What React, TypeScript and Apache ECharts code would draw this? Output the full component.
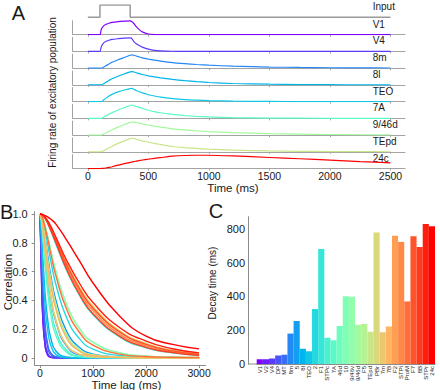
import React, { useEffect, useRef } from "react";
import * as echarts from "echarts";

// ---------- data ----------
const AREAS = ["V1","V2","V4","DP","MT","8m","5","8l","TEO","2","F1","STPc","7A","46d","10","9/46v","9/46d","F5","TEpd","PBr","7m","7B","F2","STPi","ProM","F7","8B","STPr","24c"];
const DECAY_MS = [28,28,33,50,55,180,255,90,75,325,680,155,140,225,400,398,232,237,190,778,188,222,758,722,370,755,692,828,815];
const AREA_COLORS = ["#8000ff","#6d1dfe","#5b39fd","#4954fb","#376ff9","#2488f5","#129ff1","#00b4ec","#12c7e6","#24d8df","#37e6d8","#49f1d0","#5bf9c7","#6dfdbe","#80ffb4","#92fdaa","#a4f99f","#b6f193","#c8e688","#dbd87b","#edc76f","#ffb462","#ff9f54","#ff8847","#ff6f39","#ff542b","#ff391d","#ff1d0e","#ff0000"];

// Panel A
const INPUT_T = [0, 100, 100, 350, 350, 2500];
const INPUT_V = [0, 0, 1, 1, 0, 0];
const A_ROWS = ["V1","V4","8m","8l","TEO","7A","9/46d","TEpd","24c"];
const A_ROW_COLORS = ["#8000ff","#5b39fd","#2488f5","#00b4ec","#12c7e6","#5bf9c7","#a4f99f","#c8e688","#ff0000"];
const TRACE_T = [0,100,110,125,150,175,200,250,300,350,365,380,400,425,450,500,550,600,700,800,900,1000,1200,1500,1750,2000,2250,2500];
const TR_V1 = [0,0,0.35,0.58,0.74,0.82,0.88,0.94,0.97,0.99,0.92,0.8,0.58,0.36,0.2,0.05,0.01,0,0,0,0,0,0,0,0,0,0,0];
const TR_V4 = [0,0,0.3,0.55,0.72,0.8,0.86,0.91,0.95,0.975,0.9,0.7,0.55,0.42,0.31,0.16,0.07,0.035,0.012,0.004,0,0,0,0,0,0,0,0];
const TR_8M = [0,0,0,0.05,0.17,0.3,0.42,0.6,0.76,0.92,0.95,0.92,0.87,0.8,0.74,0.65,0.57,0.5,0.39,0.32,0.26,0.21,0.14,0.08,0.05,0.03,0.02,0.012];
const TR_8L = [0,0,0,0.06,0.19,0.32,0.44,0.62,0.78,0.93,0.95,0.92,0.87,0.8,0.74,0.65,0.57,0.5,0.39,0.3,0.23,0.17,0.1,0.05,0.025,0.012,0.005,0];
const TR_TEO = [0,0,0,0.08,0.25,0.4,0.52,0.7,0.83,0.93,0.94,0.88,0.8,0.7,0.62,0.49,0.4,0.32,0.21,0.14,0.1,0.07,0.035,0.012,0.004,0,0,0];
const TR_7A = [0,0,0,0.06,0.18,0.3,0.41,0.6,0.76,0.92,0.95,0.9,0.85,0.78,0.71,0.58,0.48,0.4,0.28,0.2,0.14,0.1,0.05,0.02,0.01,0.004,0,0];
const TR_946D = [0,0,0,0.05,0.16,0.27,0.38,0.57,0.74,0.91,0.95,0.93,0.9,0.85,0.8,0.72,0.64,0.57,0.45,0.37,0.3,0.25,0.17,0.1,0.065,0.04,0.025,0.015];
const TR_TEPD = [0,0,0,0.05,0.17,0.29,0.4,0.6,0.78,0.94,0.97,0.94,0.9,0.84,0.78,0.7,0.6,0.52,0.38,0.3,0.24,0.19,0.12,0.06,0.035,0.02,0.01,0.005];
const TR_24C = [0,0,0.005,0.01,0.04,0.08,0.13,0.24,0.35,0.44,0.47,0.5,0.53,0.57,0.61,0.67,0.73,0.78,0.88,0.93,0.95,0.95,0.9,0.79,0.7,0.6,0.5,0.41];
const A_TRACES = [TR_V1, TR_V4, TR_8M, TR_8L, TR_TEO, TR_7A, TR_946D, TR_TEPD, TR_24C];
const A_TICKS = [0, 500, 1000, 1500, 2000, 2500];

// Panel B (autocorrelation, one curve per area, same order as AREAS)
const LAGS = [0,25,50,100,150,200,300,500,750,1000,1500,2000,2500,3000];
const AC_V1 = [1,0.6,0.29,0.07,0.015,0.003,0,0,0,0,0,0,0,0];
const AC_V2 = [1,0.62,0.31,0.075,0.018,0.004,0,0,0,0,0,0,0,0];
const AC_V4 = [1,0.66,0.36,0.1,0.028,0.007,0.001,0,0,0,0,0,0,0];
const AC_DP = [1,0.75,0.47,0.18,0.066,0.024,0.004,0,0,0,0,0,0,0];
const AC_MT = [1,0.78,0.52,0.21,0.087,0.035,0.007,0.001,0,0,0,0,0,0];
const AC_8M = [1,0.97,0.9,0.72,0.56,0.43,0.25,0.083,0.021,0.012,0.004,0.001,0,0];
const AC_5 = [1,0.985,0.94,0.82,0.7,0.58,0.4,0.186,0.07,0.026,0.006,0.002,0,0];
const AC_8L = [1,0.9,0.72,0.43,0.25,0.143,0.047,0.006,0,0,0,0,0,0];
const AC_TEO = [1,0.86,0.65,0.34,0.18,0.092,0.024,0.002,0,0,0,0,0,0];
const AC_2 = [1,0.99,0.96,0.88,0.78,0.68,0.51,0.28,0.13,0.061,0.016,0.005,0.002,0];
const AC_F1 = [1,0.998,0.991,0.967,0.93,0.887,0.79,0.61,0.43,0.3,0.146,0.07,0.034,0.016];
const AC_STPC = [1,0.96,0.87,0.66,0.49,0.36,0.19,0.053,0.011,0.003,0.001,0,0,0];
const AC_7A = [1,0.95,0.85,0.62,0.44,0.31,0.155,0.038,0.008,0.002,0,0,0,0];
const AC_46D = [1,0.98,0.93,0.795,0.645,0.525,0.345,0.142,0.047,0.017,0.004,0.001,0,0];
const AC_10 = [1,0.99,0.975,0.91,0.835,0.75,0.6,0.373,0.202,0.109,0.035,0.012,0.005,0.002];
const AC_946V = [1,0.99,0.974,0.908,0.832,0.748,0.598,0.371,0.2,0.107,0.034,0.012,0.005,0.002];
const AC_946D = [1,0.98,0.935,0.8,0.66,0.54,0.36,0.153,0.052,0.019,0.004,0.001,0,0];
const AC_F5 = [1,0.98,0.94,0.805,0.665,0.55,0.37,0.16,0.056,0.021,0.005,0.001,0,0];
const AC_TEPD = [1,0.97,0.905,0.735,0.575,0.445,0.265,0.092,0.025,0.008,0.002,0,0,0];
const AC_PBR = [1,0.998,0.992,0.973,0.943,0.905,0.825,0.66,0.49,0.36,0.19,0.1,0.053,0.028];
const AC_7M = [1,0.97,0.9,0.73,0.57,0.44,0.26,0.09,0.024,0.007,0.002,0,0,0];
const AC_7B = [1,0.98,0.93,0.79,0.64,0.52,0.34,0.139,0.045,0.016,0.003,0.001,0,0];
const AC_F2 = [1,0.998,0.992,0.972,0.94,0.9,0.82,0.652,0.478,0.347,0.181,0.094,0.049,0.025];
const AC_STPI = [1,0.998,0.991,0.97,0.937,0.897,0.81,0.635,0.458,0.327,0.165,0.083,0.042,0.021];
const AC_PROM = [1,0.99,0.97,0.9,0.82,0.73,0.57,0.34,0.174,0.089,0.026,0.009,0.004,0.002];
const AC_F7 = [1,0.998,0.992,0.972,0.94,0.9,0.82,0.65,0.476,0.345,0.18,0.093,0.048,0.024];
const AC_8B = [1,0.998,0.991,0.968,0.933,0.89,0.8,0.617,0.437,0.306,0.151,0.073,0.036,0.017];
const AC_STPR = [1,0.998,0.993,0.976,0.95,0.917,0.84,0.68,0.515,0.384,0.211,0.116,0.063,0.034];
const AC_24C = [1,0.999,0.997,0.988,0.978,0.965,0.93,0.82,0.67,0.52,0.29,0.15,0.093,0.062];
const ACF = [AC_V1,AC_V2,AC_V4,AC_DP,AC_MT,AC_8M,AC_5,AC_8L,AC_TEO,AC_2,AC_F1,AC_STPC,AC_7A,AC_46D,AC_10,AC_946V,AC_946D,AC_F5,AC_TEPD,AC_PBR,AC_7M,AC_7B,AC_F2,AC_STPI,AC_PROM,AC_F7,AC_8B,AC_STPR,AC_24C];
const B_X_TICKS = [0, 1000, 2000, 3000];
const B_Y_TICKS = [0, 0.2, 0.4, 0.6, 0.8, 1.0];
const C_Y_TICKS = [0, 200, 400, 600, 800];

// ---------- styling / layout ----------
const FONT = '"Liberation Sans", Arial, sans-serif';
const TXT = "#1a1a1a";
const GRAY = "#a3a3a3";
const A_LEFT = 72.7, A_WIDTH = 332.3, A_XMIN = -125, A_XMAX = 2620;
const ROW_BASE0 = 34.7, ROW_PITCH = 16.73, ROW_H = 14;
const INPUT_TOP = 5, INPUT_BASE = 17.3;
const plain = (v: number) => String(v);

function buildOption() {
  const grid: any[] = [];
  const xAxis: any[] = [];
  const yAxis: any[] = [];
  const series: any[] = [];
  const graphic: any[] = [];

  const text = (t: string, x: number, y: number, size: number, opts: any = {}) => ({
    type: "text", x, y, rotation: opts.rotation || 0, silent: true,
    style: { text: t, fill: TXT, fontSize: size, fontFamily: FONT,
      textAlign: opts.align || "center", textVerticalAlign: "middle" },
  });

  // Input row
  grid.push({ left: A_LEFT, top: INPUT_TOP, width: A_WIDTH, height: INPUT_BASE - INPUT_TOP });
  xAxis.push({ gridIndex: 0, type: "value", min: A_XMIN, max: A_XMAX, show: false });
  yAxis.push({ gridIndex: 0, type: "value", min: 0, max: 1, show: false });
  series.push({ type: "line", xAxisIndex: 0, yAxisIndex: 0, data: INPUT_T.map((t, i) => [t, INPUT_V[i]]),
    showSymbol: false, lineStyle: { color: "#9a9a9a", width: 1.5 }, silent: true });
  graphic.push(text("Input", 372.7, INPUT_BASE - 10.6, 10, { align: "left" }));

  A_ROWS.forEach((name, k) => {
    const gi = k + 1;
    const base = ROW_BASE0 + k * ROW_PITCH;
    const last = k === A_ROWS.length - 1;
    grid.push({ left: A_LEFT, top: base - ROW_H, width: A_WIDTH, height: ROW_H });
    xAxis.push({ gridIndex: gi, type: "value", min: A_XMIN, max: A_XMAX,
      axisLine: { show: true, onZero: false, lineStyle: { color: GRAY, width: 1 } },
      axisTick: { show: true, length: 2, customValues: A_TICKS, lineStyle: { color: GRAY } },
      axisLabel: { show: last, customValues: A_TICKS, fontSize: 10.5, color: TXT, margin: 2, fontFamily: FONT, formatter: plain },
      splitLine: { show: false } });
    yAxis.push({ gridIndex: gi, type: "value", min: 0, max: 1,
      axisLine: { show: true, onZero: false, lineStyle: { color: GRAY, width: 1 } },
      axisTick: { show: false }, axisLabel: { show: false }, splitLine: { show: false } });
    series.push({ type: "line", xAxisIndex: gi, yAxisIndex: gi,
      data: TRACE_T.map((t, i) => [t, A_TRACES[k][i]]),
      showSymbol: false, smooth: 0.2, lineStyle: { color: A_ROW_COLORS[k], width: 1.2 }, silent: true });
    graphic.push(text(name, 372.7, base - 10.5, 10, { align: "left" }));
  });

  // Panel B
  const gB = grid.length;
  grid.push({ left: 34.7, top: 211.7, width: 171, height: 153.3 });
  xAxis.push({ gridIndex: gB, type: "value", min: -100, max: 3125,
    axisLine: { show: true, onZero: false, lineStyle: { color: "#8c8c8c" } },
    axisTick: { show: true, length: 3, customValues: B_X_TICKS, lineStyle: { color: "#8c8c8c" } },
    axisLabel: { customValues: B_X_TICKS, fontSize: 10.5, color: TXT, margin: 2, fontFamily: FONT, formatter: plain },
    splitLine: { show: false } });
  yAxis.push({ gridIndex: gB, type: "value", min: -0.05, max: 1.016,
    axisLine: { show: true, onZero: false, lineStyle: { color: "#8c8c8c" } },
    axisTick: { show: true, length: 3, customValues: B_Y_TICKS, lineStyle: { color: "#8c8c8c" } },
    axisLabel: { customValues: B_Y_TICKS, fontSize: 11, color: TXT, margin: 7, fontFamily: FONT,
      formatter: (v: number) => (Math.abs(v) < 1e-9 ? "0" : v.toFixed(1)) },
    splitLine: { show: false } });
  AREAS.forEach((a, i) => {
    series.push({ type: "line", name: a, xAxisIndex: gB, yAxisIndex: gB,
      data: LAGS.map((l, j) => [l, ACF[i][j]]),
      showSymbol: false, smooth: 0.5,
      lineStyle: { color: AREA_COLORS[i], width: 1.4 }, silent: true });
  });

  // Panel C
  const gC = grid.length;
  grid.push({ left: 256.7, top: 216.7, width: 178.3, height: 147.3 });
  xAxis.push({ gridIndex: gC, type: "category", data: AREAS,
    axisLine: { show: true, lineStyle: { color: "#8c8c8c" } },
    axisTick: { show: false },
    axisLabel: { interval: 0, rotate: 90, fontSize: 6, color: TXT, margin: 2, fontFamily: FONT } });
  yAxis.push({ gridIndex: gC, type: "value", min: 0, max: 871, offset: 8.7,
    axisLine: { show: true, onZero: false, lineStyle: { color: "#8c8c8c" } },
    axisTick: { show: false },
    axisLabel: { customValues: C_Y_TICKS, fontSize: 11, color: TXT, margin: 3, fontFamily: FONT, formatter: plain },
    splitLine: { show: false } });
  series.push({ type: "bar", xAxisIndex: gC, yAxisIndex: gC,
    data: DECAY_MS.map((v, i) => ({ value: v, itemStyle: { color: AREA_COLORS[i] } })),
    barCategoryGap: "0%", barWidth: "100%", silent: true });

  graphic.push({ type: "line", silent: true, shape: { x1: 248, y1: 364, x2: 257, y2: 364 },
    style: { stroke: "#8c8c8c", lineWidth: 1 } });

  // titles & panel letters
  graphic.push(text("Firing rate of excitatory population", 52.5, 92.5, 10, { rotation: Math.PI / 2 }));
  graphic.push(text("Time (ms)", 233, 188, 11.5));
  graphic.push(text("Correlation", 7.5, 282, 11.5, { rotation: Math.PI / 2 }));
  graphic.push(text("Time lag (ms)", 126.5, 384.5, 11.5));
  graphic.push(text("Decay time (ms)", 212, 283, 10, { rotation: Math.PI / 2 }));
  graphic.push(text("A", 18.3, 12.5, 20));
  graphic.push(text("B", 6.7, 211.7, 20));
  graphic.push(text("C", 216, 211, 20));

  return { animation: false, backgroundColor: "#ffffff", grid, xAxis, yAxis, series, graphic };
}

export default function App() {
  const ref = useRef<HTMLDivElement>(null);
  useEffect(() => {
    if (!ref.current) return;
    const chart = echarts.init(ref.current, undefined, { renderer: "svg" });
    chart.setOption(buildOption() as any);
    return () => chart.dispose();
  }, []);
  return <div ref={ref} style={{ position: "fixed", left: 0, top: 0, width: 440, height: 390 }} />;
}
